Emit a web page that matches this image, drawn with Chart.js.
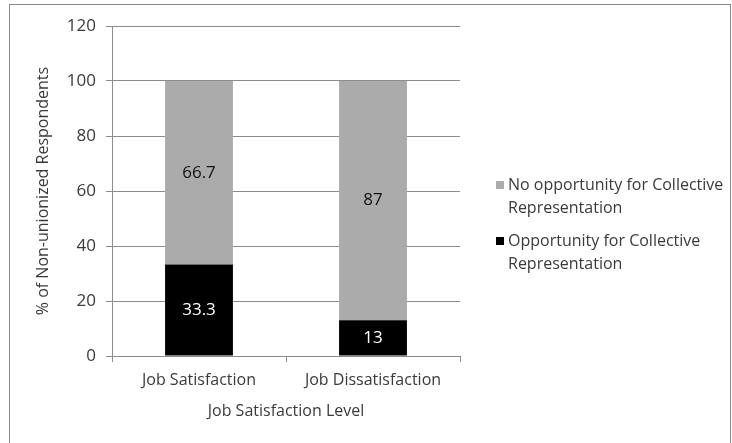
<!DOCTYPE html>
<html>
<head>
<meta charset="utf-8">
<script src="https://cdn.jsdelivr.net/npm/chart.js@4"></script>
<style>
  html, body { margin: 0; padding: 0; background: #fff; }
  #wrap { width: 732px; height: 443px; position: relative; }
</style>
</head>
<body>
<div id="wrap"><canvas id="chart" width="732" height="443"></canvas></div>
<script>
const categories = ["Job Satisfaction", "Job Dissatisfaction"];
const opportunity = [33.3, 13];
const noOpportunity = [66.7, 87];
const yTicks = [0, 20, 40, 60, 80, 100, 120];

const FONT = "'Open Sans', sans-serif";
const GRAY = "#ababab";
const LINE = "#8c8c8c";
const TEXT = "#3a3a3a";

// value labels in the middle of each segment
const segmentLabels = {
    id: "segmentLabels",
    afterDatasetsDraw(chart) {
        const ctx = chart.ctx;
        ctx.save();
        ctx.font = "17px " + FONT;
        ctx.textAlign = "center";
        ctx.textBaseline = "middle";
        chart.data.datasets.forEach((ds, i) => {
            chart.getDatasetMeta(i).data.forEach((bar, j) => {
                ctx.fillStyle = ds.labelColor;
                ctx.fillText(String(ds.data[j]), bar.x, (bar.y + bar.base) / 2);
            });
        });
        ctx.restore();
    }
};

// wrapped legend on the right + outer frame
const sideLegend = {
    id: "sideLegend",
    afterDraw(chart) {
        const ctx = chart.ctx;
        ctx.save();
        ctx.strokeStyle = "#8a8a8a";
        ctx.lineWidth = 1;
        ctx.strokeRect(9.5, 4.5, 721, 460);

        const entries = [
            { ds: chart.data.datasets[1], lines: ["No opportunity for Collective", "Representation"], y: 185 },
            { ds: chart.data.datasets[0], lines: ["Opportunity for Collective", "Representation"], y: 241 }
        ];
        ctx.font = "16px " + FONT;
        ctx.textBaseline = "middle";
        ctx.textAlign = "left";
        entries.forEach(e => {
            ctx.fillStyle = e.ds.backgroundColor;
            ctx.fillRect(496, e.y - 4, 8, 8);
            ctx.fillStyle = TEXT;
            e.lines.forEach((t, k) => ctx.fillText(t, 508, e.y + k * 23));
        });
        ctx.restore();
    }
};

new Chart(document.getElementById("chart"), {
    type: "bar",
    data: {
        labels: categories,
        datasets: [
            { label: "Opportunity for Collective Representation", data: opportunity, backgroundColor: "#000000", labelColor: "#ffffff" },
            { label: "No opportunity for Collective Representation", data: noOpportunity, backgroundColor: GRAY, labelColor: "#111111" }
        ]
    },
    options: {
        responsive: false,
        animation: false,
        layout: { padding: { left: 30, top: 26, right: 272, bottom: 18 } },
        datasets: { bar: { categoryPercentage: 1, barPercentage: 0.39 } },
        plugins: { legend: { display: false }, tooltip: { enabled: false } },
        scales: {
            x: {
                stacked: true,
                afterFit: s => { s.height = 69; },
                grid: { drawOnChartArea: false, drawTicks: true, tickLength: 6, color: LINE },
                border: { display: true, color: LINE },
                ticks: { color: TEXT, font: { family: FONT, size: 16 }, padding: 9 },
                title: { display: true, text: "Job Satisfaction Level", color: TEXT, font: { family: FONT, size: 16 }, padding: 4 }
            },
            y: {
                stacked: true,
                min: 0,
                max: 120,
                afterFit: s => { s.width = 82; },
                afterBuildTicks: s => { s.ticks = yTicks.map(v => ({ value: v })); },
                grid: { color: LINE, tickLength: 6 },
                border: { display: true, color: LINE },
                ticks: { color: TEXT, font: { family: FONT, size: 17 }, padding: 10 },
                title: { display: true, text: "% of Non-unionized Respondents", color: TEXT, font: { family: FONT, size: 16 }, padding: 4 }
            }
        }
    },
    plugins: [segmentLabels, sideLegend]
});
</script>
</body>
</html>
